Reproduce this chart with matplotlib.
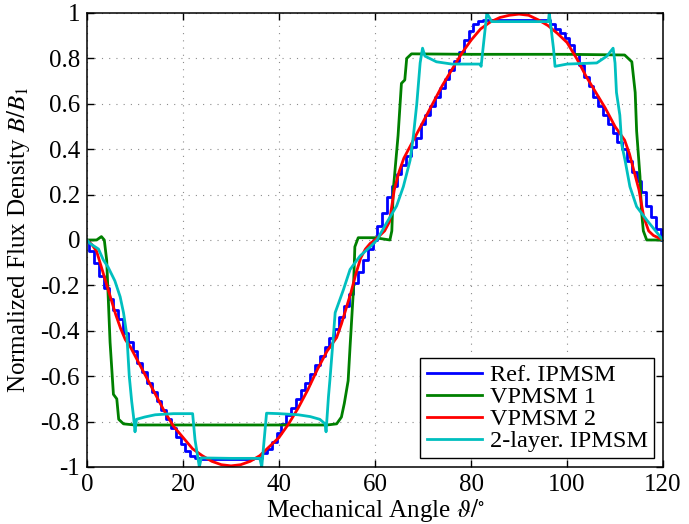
import matplotlib
matplotlib.use("Agg")
import matplotlib.pyplot as plt
import numpy as np

plt.rcParams['font.family'] = ['Liberation Serif', 'DejaVu Serif']
plt.rcParams['mathtext.fontset'] = 'stix'

# Ref. IPMSM, sampled every degree (stair-stepped curve)
ref_x = np.arange(0, 121)
ref_y = [0, -0.05, -0.10, -0.16, -0.21, -0.26, -0.31, -0.35, -0.41, -0.45,
         -0.49, -0.54, -0.58, -0.63, -0.67, -0.71, -0.75, -0.79, -0.83, -0.87,
         -0.90, -0.93, -0.95, -0.96, -0.965, -0.965, -0.965, -0.965, -0.965, -0.965,
         -0.965, -0.965, -0.965, -0.965, -0.965, -0.96, -0.96, -0.94, -0.92, -0.89,
         -0.85, -0.81, -0.77, -0.74, -0.70, -0.66, -0.63, -0.59, -0.55, -0.51,
         -0.47, -0.43, -0.39, -0.34, -0.29, -0.24, -0.19, -0.14, -0.09, -0.04,
         0.0, 0.06, 0.12, 0.19, 0.24, 0.29, 0.33, 0.37, 0.41, 0.45,
         0.51, 0.55, 0.59, 0.63, 0.67, 0.71, 0.75, 0.79, 0.83, 0.88,
         0.92, 0.95, 0.965, 0.97, 0.97, 0.97, 0.97, 0.97, 0.97, 0.97,
         0.97, 0.97, 0.97, 0.97, 0.97, 0.97, 0.97, 0.95, 0.93, 0.91,
         0.89, 0.86, 0.82, 0.77, 0.72, 0.68, 0.63, 0.59, 0.55, 0.51,
         0.47, 0.43, 0.40, 0.35, 0.30, 0.26, 0.21, 0.15, 0.10, 0.05,
         0.0]

# VPMSM 1
vp1_x = [0, 2, 3, 3.6, 4.1, 4.8, 5.5, 6.2, 6.6, 7.6, 10, 30, 50, 52, 53, 53.6,
         54.4, 54.8, 55.5, 55.8, 56.5, 60, 63.1, 63.5, 63.8, 64.8, 65.5, 66.2,
         66.6, 67.6, 80, 100, 112, 113.5, 114.2, 114.5, 115.2, 115.5, 115.9,
         116.6, 120]
vp1_y = [0, 0, 0.015, 0, -0.09, -0.45, -0.68, -0.70, -0.79, -0.81, -0.815,
         -0.815, -0.815, -0.81, -0.78, -0.72, -0.62, -0.47, -0.22, -0.03, 0.01,
         0.01, 0.0, 0.04, 0.22, 0.46, 0.69, 0.705, 0.80, 0.82, 0.818, 0.818,
         0.815, 0.785, 0.65, 0.48, 0.28, 0.13, 0.04, 0.0, 0.0]

# VPMSM 2
vp2_x = [0, 1, 2, 3, 4, 5, 6, 7, 8, 9, 10, 12, 14, 16, 18, 20, 22, 24, 26, 28,
         30, 32, 34, 36, 38, 40, 42, 44, 46, 48, 50, 52, 53, 54, 55, 56, 57, 58,
         59, 60, 61, 62, 63, 64, 65, 66, 67, 68, 70, 72, 74, 76, 78, 80, 82, 84,
         86, 88, 90, 92, 94, 96, 98, 100, 102, 104, 106, 108, 110, 112, 113, 114,
         115, 116, 117, 118, 119, 120]
vp2_y = [0, -0.02, -0.05, -0.12, -0.19, -0.26, -0.33, -0.39, -0.44, -0.47,
         -0.51, -0.59, -0.67, -0.75, -0.82, -0.87, -0.92, -0.95, -0.975, -0.99,
         -0.995, -0.99, -0.975, -0.95, -0.91, -0.87, -0.81, -0.74, -0.66, -0.57,
         -0.49, -0.43, -0.37, -0.30, -0.23, -0.15, -0.08, -0.04, -0.015, 0.0,
         0.02, 0.04, 0.08, 0.22, 0.30, 0.36, 0.40, 0.44, 0.52, 0.60, 0.68, 0.75,
         0.82, 0.88, 0.93, 0.96, 0.98, 0.99, 0.995, 0.99, 0.97, 0.945, 0.91,
         0.87, 0.80, 0.72, 0.65, 0.58, 0.50, 0.44, 0.38, 0.30, 0.22, 0.10, 0.04,
         0.02, 0.01, 0]

# 2-layer. IPMSM
two_x = [0, 0.6, 2.4, 3.4, 4.4, 5.8, 6.9, 7.6, 8.3, 8.8, 9.3, 9.7, 10.0, 10.3,
         12.0, 14.2, 18, 22.0, 22.5, 23.4, 23.8, 30, 36.0, 36.4, 37.4, 40, 44,
         46.5, 48.5, 49.6, 49.8, 50.3, 50.6, 51.3, 51.7, 53.4, 54.8, 56.9, 59,
         60.4, 62.4, 64.5, 65.9, 67.3, 68.0, 68.7, 69.4, 69.9, 70.4, 72.8, 76,
         81.9, 82.1, 83.3, 84.3, 90, 96.1, 96.3, 97.2, 97.5, 100, 106.2, 108.3,
         109.6, 110.0, 110.3, 111.0, 111.4, 112.1, 113.1, 114.5, 116.6, 118.3,
         119.7, 120]
two_y = [0, -0.015, -0.04, -0.088, -0.12, -0.18, -0.25, -0.32, -0.42, -0.60,
         -0.71, -0.78, -0.845, -0.79, -0.78, -0.77, -0.765, -0.765, -0.88, -1.0,
         -0.96, -0.962, -0.962, -1.0, -0.763, -0.765, -0.77, -0.778, -0.79,
         -0.81, -0.845, -0.69, -0.617, -0.43, -0.32, -0.22, -0.13, -0.07, -0.03,
         0.0, 0.075, 0.15, 0.235, 0.35, 0.46, 0.60, 0.78, 0.845, 0.81, 0.785,
         0.775, 0.775, 0.765, 1.0, 0.962, 0.962, 0.962, 1.0, 0.84, 0.765, 0.775,
         0.78, 0.81, 0.845, 0.78, 0.65, 0.55, 0.42, 0.35, 0.235, 0.147, 0.088,
         0.044, 0.007, 0]

labels = ['Ref. IPMSM', 'VPMSM 1', 'VPMSM 2', '2-layer. IPMSM']
colors = ['#0000ff', '#008000', '#ff0000', '#00bfbf']

xticks = [0, 20, 40, 60, 80, 100, 120]
yticks = [-1, -0.8, -0.6, -0.4, -0.2, 0, 0.2, 0.4, 0.6, 0.8, 1]
ytick_labels = ['-1', '-0.8', '-0.6', '-0.4', '-0.2', '0', '0.2', '0.4', '0.6', '0.8', '1']

fig = plt.figure(figsize=(6.89, 5.24), dpi=100)
ax = fig.add_axes([0.1263, 0.1088, 0.836, 0.8664])

lw = 2.0
ax.plot(ref_x, ref_y, color=colors[0], lw=lw, drawstyle='steps-mid', label=labels[0])
ax.plot(vp1_x, vp1_y, color=colors[1], lw=lw, label=labels[1])
ax.plot(vp2_x, vp2_y, color=colors[2], lw=lw, label=labels[2])
ax.plot(two_x, two_y, color=colors[3], lw=lw, label=labels[3])

ax.set_xlim(0, 120)
ax.set_ylim(-1, 1)
ax.set_xticks(xticks)
ax.set_xticklabels([str(t) for t in xticks])
ax.set_yticks(yticks)
ax.set_yticklabels(ytick_labels)
ax.tick_params(direction='in', top=True, right=True, length=5, width=1,
               labelsize=18, pad=5)
for s in ax.spines.values():
    s.set_linewidth(1.1)

ax.grid(True, color='#8c8c8c', linestyle=(0, (1, 5.5)), linewidth=0.8)
ax.set_axisbelow(True)

ax.set_xlabel(r'Mechanical Angle $\vartheta/^{\circ}$', fontsize=18, labelpad=1)
ax.set_ylabel(r'Normalized Flux Density $B/B_1$', fontsize=18, labelpad=6)

leg = ax.legend(loc='lower right', bbox_to_anchor=(0.984, 0.019), fontsize=17.5,
                fancybox=False, framealpha=1, edgecolor='black',
                handlelength=2.3, labelspacing=0.0, borderpad=0.25,
                handletextpad=0.3, borderaxespad=0.0)
leg.get_frame().set_linewidth(1.0)

fig.savefig('out.png', dpi=100)
